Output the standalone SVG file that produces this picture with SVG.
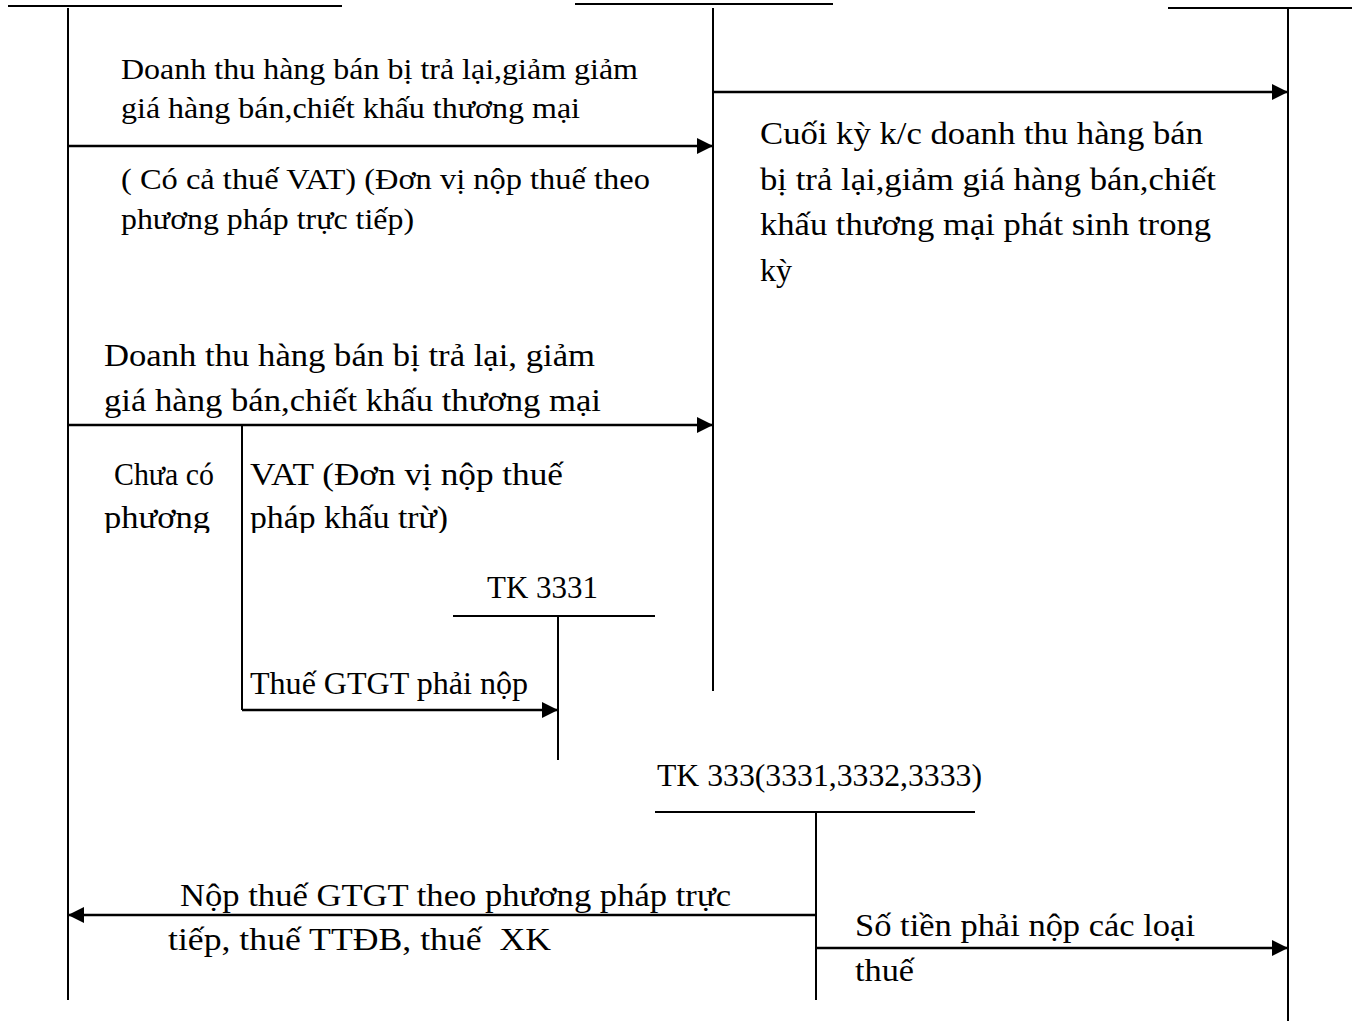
<svg xmlns="http://www.w3.org/2000/svg" width="1358" height="1021" viewBox="0 0 1358 1021">
<style>
.ln{stroke:#000;stroke-width:2;fill:none}
.ar{stroke:#000;stroke-width:2.6;fill:none}
.t{font-family:"Liberation Serif","Times New Roman",serif;font-size:32px;fill:#000}
.s{font-size:29.5px}
</style>
<defs>
<marker id="ah" markerWidth="16" markerHeight="16" refX="16" refY="8" orient="auto" markerUnits="userSpaceOnUse">
<path d="M0,0 L16,8 L0,16 Z" fill="#000"/>
</marker>
<clipPath id="clipA"><rect x="0" y="430" width="700" height="103"/></clipPath>
</defs>
<rect width="1358" height="1021" fill="#fff"/>
<g id="tk-left">
<line class="ln" x1="8" y1="6" x2="342" y2="6"/>
<line class="ln" x1="68" y1="8" x2="68" y2="1000"/>
</g>
<g id="tk-middle">
<line class="ln" x1="575" y1="4" x2="833" y2="4"/>
<line class="ln" x1="713" y1="8" x2="713" y2="691"/>
</g>
<g id="tk-right">
<line class="ln" x1="1168" y1="8" x2="1352" y2="8"/>
<line class="ln" x1="1288" y1="8" x2="1288" y2="1021"/>
</g>
<g id="tk-3331">
<text class="t" x="487" y="598" textLength="111" lengthAdjust="spacingAndGlyphs">TK 3331</text>
<line class="ln" x1="453" y1="616" x2="655" y2="616"/>
<line class="ln" x1="558" y1="616" x2="558" y2="760"/>
</g>
<g id="tk-333">
<text class="t" x="657" y="786" textLength="325" lengthAdjust="spacingAndGlyphs">TK 333(3331,3332,3333)</text>
<line class="ln" x1="655" y1="812" x2="975" y2="812"/>
<line class="ln" x1="816" y1="812" x2="816" y2="1000"/>
</g>
<g id="connectors">
<line class="ar" x1="68" y1="146" x2="713" y2="146" marker-end="url(#ah)"/>
<line class="ar" x1="713" y1="92" x2="1288" y2="92" marker-end="url(#ah)"/>
<line class="ar" x1="68" y1="425" x2="713" y2="425" marker-end="url(#ah)"/>
<line class="ln" x1="242" y1="425" x2="242" y2="710"/>
<line class="ar" x1="242" y1="710" x2="558" y2="710" marker-end="url(#ah)"/>
<line class="ar" x1="816" y1="915" x2="68" y2="915" marker-end="url(#ah)"/>
<line class="ar" x1="816" y1="948" x2="1288" y2="948" marker-end="url(#ah)"/>
</g>
<g id="labels">
<text class="t s" x="121" y="79" textLength="517" lengthAdjust="spacingAndGlyphs">Doanh thu hàng bán bị trả lại,giảm giảm</text>
<text class="t s" x="121" y="118" textLength="459" lengthAdjust="spacingAndGlyphs">giá hàng bán,chiết khấu thương mại</text>
<text class="t s" x="121" y="189" textLength="529" lengthAdjust="spacingAndGlyphs">( Có cả thuế VAT) (Đơn vị nộp thuế theo</text>
<text class="t s" x="121" y="229" textLength="293" lengthAdjust="spacingAndGlyphs">phương pháp trực tiếp)</text>
<text class="t" x="760" y="144" textLength="443" lengthAdjust="spacingAndGlyphs">Cuối kỳ k/c doanh thu hàng bán</text>
<text class="t" x="760" y="190" textLength="456" lengthAdjust="spacingAndGlyphs">bị trả lại,giảm giá hàng bán,chiết</text>
<text class="t" x="760" y="235" textLength="451" lengthAdjust="spacingAndGlyphs">khấu thương mại phát sinh trong</text>
<text class="t" x="760" y="281" textLength="32" lengthAdjust="spacingAndGlyphs">kỳ</text>
<text class="t" x="104" y="366" textLength="491" lengthAdjust="spacingAndGlyphs">Doanh thu hàng bán bị trả lại, giảm</text>
<text class="t" x="104" y="411" textLength="497" lengthAdjust="spacingAndGlyphs">giá hàng bán,chiết khấu thương mại</text>
<g clip-path="url(#clipA)">
<text class="t" x="114" y="485" textLength="100" lengthAdjust="spacingAndGlyphs">Chưa có</text>
<text class="t" x="104" y="528" textLength="106" lengthAdjust="spacingAndGlyphs">phương</text>
<text class="t" x="250" y="485" textLength="313" lengthAdjust="spacingAndGlyphs">VAT (Đơn vị nộp thuế</text>
<text class="t" x="250" y="528" textLength="198" lengthAdjust="spacingAndGlyphs">pháp khấu trừ)</text>
</g>
<text class="t" x="250" y="694" textLength="278" lengthAdjust="spacingAndGlyphs">Thuế GTGT phải nộp</text>
<text class="t" x="180" y="906" textLength="551" lengthAdjust="spacingAndGlyphs">Nộp thuế GTGT theo phương pháp trực</text>
<text class="t" x="168" y="950" xml:space="preserve" textLength="383" lengthAdjust="spacingAndGlyphs">tiếp, thuế TTĐB, thuế  XK</text>
<text class="t" x="855" y="936" textLength="340" lengthAdjust="spacingAndGlyphs">Số tiền phải nộp các loại</text>
<text class="t" x="855" y="981" textLength="59" lengthAdjust="spacingAndGlyphs">thuế</text>
</g>
</svg>
